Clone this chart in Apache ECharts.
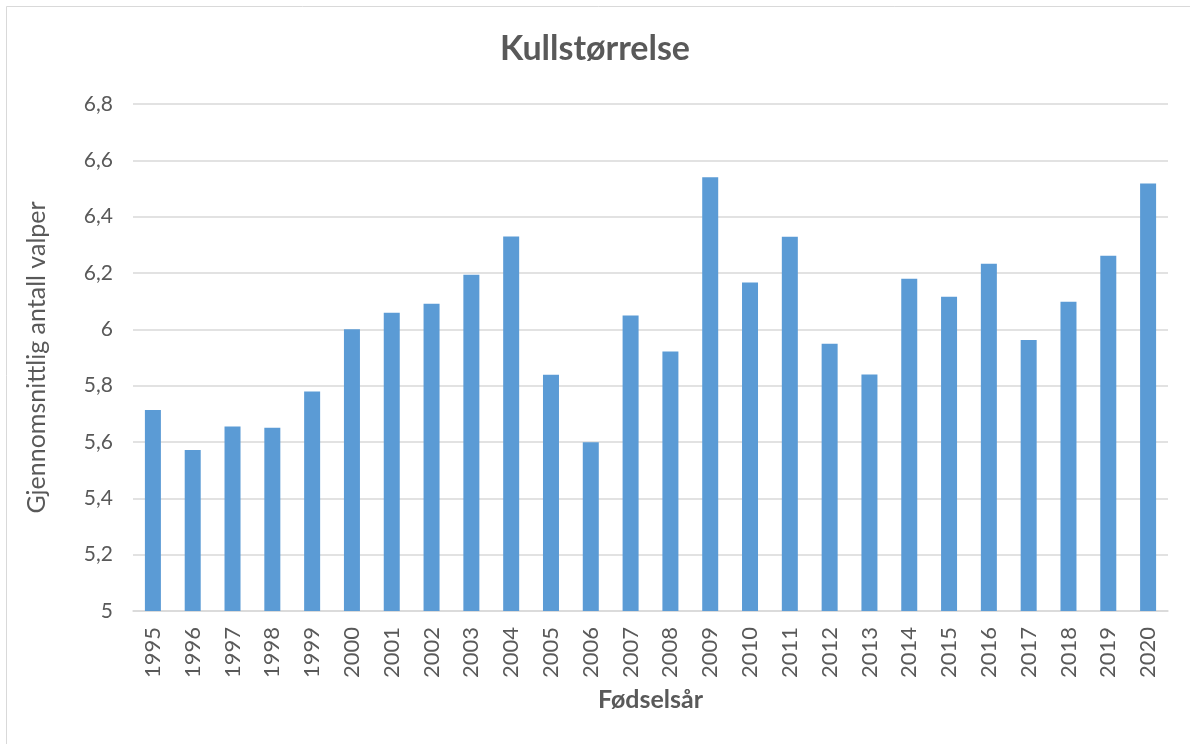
<!DOCTYPE html>
<html>
<head>
<meta charset="utf-8">
<title>Kullstørrelse</title>
<script src="https://cdn.jsdelivr.net/npm/echarts@6/dist/echarts.min.js"></script>
<style>
  html, body { margin: 0; padding: 0; background: #fff; }
  #chart { width: 1190px; height: 744px; }
</style>
</head>
<body>
<div id="chart"></div>
<script>
// data lest av fra bildet
var years = ['1995', '1996', '1997', '1998', '1999', '2000', '2001', '2002', '2003', '2004',
    '2005', '2006', '2007', '2008', '2009', '2010', '2011', '2012', '2013', '2014',
    '2015', '2016', '2017', '2018', '2019', '2020'];
var avgPups = [5.714, 5.572, 5.655, 5.651, 5.779, 6.0, 6.059, 6.091, 6.194, 6.330,
    5.839, 5.599, 6.049, 5.921, 6.540, 6.166, 6.329, 5.949, 5.840, 6.180,
    6.116, 6.233, 5.962, 6.098, 6.261, 6.518];
var yMin = 5;
var yMax = 6.8;
var yStep = 0.2;

var textColor = '#595959';
var font = 'Lato, "Open Sans", sans-serif';

var myChart = echarts.init(document.getElementById('chart'));

var option = {
    backgroundColor: '#fff',
    animation: false,
    title: {
        text: 'Kullstørrelse',
        left: 'center',
        top: 27,
        textStyle: {
            color: textColor,
            fontFamily: font,
            fontWeight: 'bold',
            fontSize: 34
        }
    },
    graphic: [{
        type: 'rect',
        shape: { x: 6.5, y: 6.5, width: 1200, height: 800 },
        style: { fill: 'none', stroke: '#d9d9d9', lineWidth: 1 },
        silent: true
    }],
    grid: {
        left: 133,
        right: 22,
        top: 104,
        bottom: 133
    },
    xAxis: {
        type: 'category',
        data: years,
        name: 'Fødselsår',
        nameLocation: 'middle',
        nameGap: 76,
        nameTextStyle: {
            color: textColor,
            fontFamily: font,
            fontWeight: 'bold',
            fontSize: 25
        },
        axisLine: { lineStyle: { color: '#d9d9d9', width: 1.5 } },
        axisTick: { show: false },
        axisLabel: {
            rotate: 90,
            margin: 16,
            color: textColor,
            fontFamily: font,
            fontSize: 22
        }
    },
    yAxis: {
        type: 'value',
        min: yMin,
        max: yMax,
        interval: yStep,
        name: 'Gjennomsnittlig antall valper',
        nameLocation: 'middle',
        nameGap: 84,
        nameTextStyle: {
            color: textColor,
            fontFamily: font,
            fontSize: 25
        },
        axisLine: { show: false },
        axisTick: { show: false },
        splitLine: { lineStyle: { color: '#d9d9d9', width: 1.5 } },
        axisLabel: {
            margin: 20,
            color: textColor,
            fontFamily: font,
            fontSize: 21,
            formatter: function (v) {
                return String(Number(v.toFixed(1))).replace('.', ',');
            }
        }
    },
    series: [{
        name: 'Kullstørrelse',
        type: 'bar',
        data: avgPups,
        barWidth: 16,
        itemStyle: { color: '#5b9bd5' }
    }]
};

myChart.setOption(option);
</script>
</body>
</html>
